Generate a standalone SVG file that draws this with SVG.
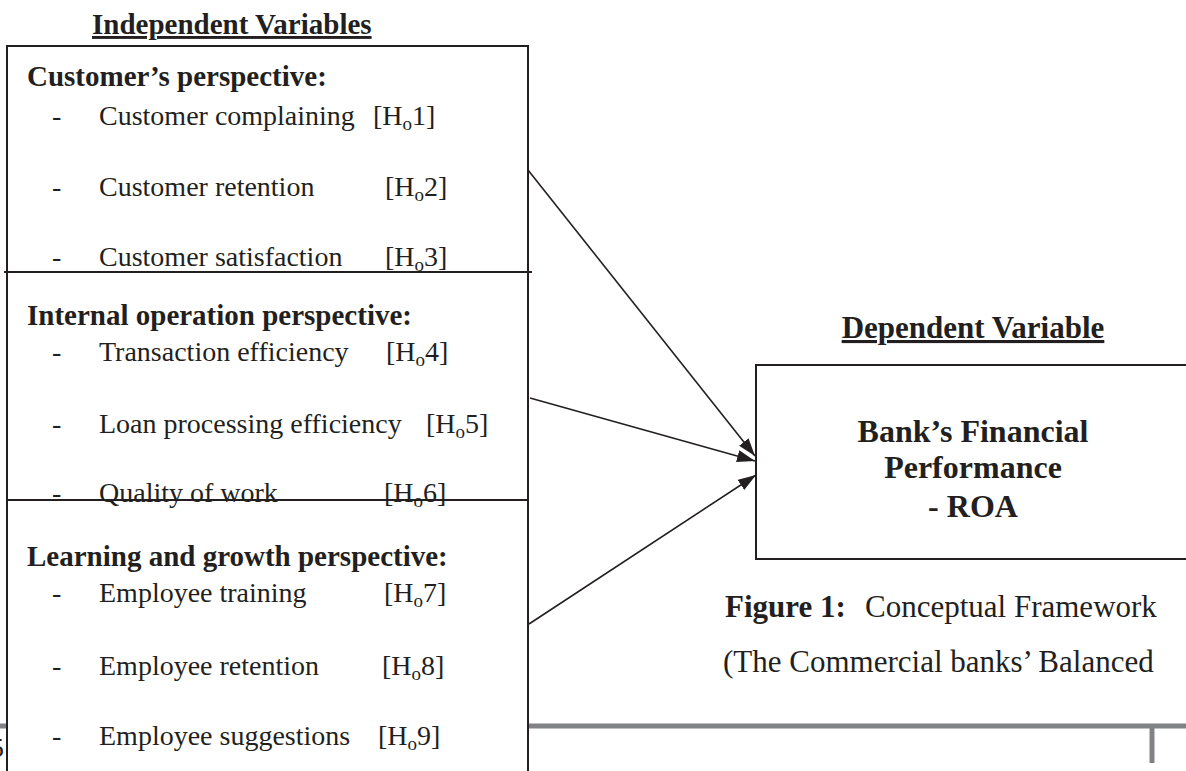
<svg xmlns="http://www.w3.org/2000/svg" width="1186" height="771" viewBox="0 0 1186 771">
<style>
  text { font-family: "Liberation Serif", "Times New Roman", serif; fill: #231f20; }
  .title { font-weight: bold; text-decoration: underline; }
  .hdr { font-weight: bold; font-size: 29px; }
  .item { font-size: 28px; }
  .sub { font-size: 19px; }
  .box { fill: none; stroke: #231f20; stroke-width: 2; }
  .rule { stroke: #231f20; stroke-width: 2; }
  .conn { stroke: #231f20; stroke-width: 1.6; fill: none; marker-end: url(#arrow); }
  .gray { stroke: #808285; stroke-width: 5; }
</style>
<defs>
  <marker id="arrow" viewBox="0 0 18 12" refX="18" refY="6" markerWidth="18" markerHeight="12" markerUnits="userSpaceOnUse" orient="auto">
    <path d="M0,0 L18,6 L0,12 z" fill="#231f20"/>
  </marker>
</defs>
<rect x="0" y="0" width="1186" height="771" fill="#ffffff"/>

<!-- page footer rule -->
<g id="page-footer">
  <line class="gray" x1="0" y1="726" x2="1186" y2="726"/>
  <line class="gray" x1="1152" y1="726" x2="1152" y2="763"/>
  <text x="-10" y="757" style="font-size:28px">5</text>
</g>

<!-- white backing of the independent-variable boxes -->
<rect x="7" y="46" width="521" height="740" fill="#ffffff"/>
<rect x="756" y="365" width="440" height="194" fill="#ffffff"/>

<text id="title-independent" class="title" x="92" y="34" style="font-size:29px">Independent Variables</text>

<g id="node-customer">
  <rect class="box" x="7" y="46" width="521" height="226"/>
  <text class="hdr" x="27" y="86">Customer’s perspective:</text>
  <text class="item" x="52" y="125">-</text>
  <text class="item" x="99" y="125">Customer complaining</text>
  <text class="item" x="373" y="125">[H<tspan class="sub" dy="5">o</tspan><tspan dy="-5">1]</tspan></text>
  <text class="item" x="52" y="196">-</text>
  <text class="item" x="99" y="196">Customer retention</text>
  <text class="item" x="385" y="196">[H<tspan class="sub" dy="5">o</tspan><tspan dy="-5">2]</tspan></text>
  <text class="item" x="52" y="266">-</text>
  <text class="item" x="99" y="266">Customer satisfaction</text>
  <text class="item" x="385" y="266">[H<tspan class="sub" dy="5">o</tspan><tspan dy="-5">3]</tspan></text>
</g>

<g id="node-internal">
  <rect class="box" x="7" y="272" width="521" height="228"/>
  <line class="rule" x1="4" y1="272" x2="532" y2="272"/>
  <text class="hdr" x="27" y="325">Internal operation perspective:</text>
  <text class="item" x="52" y="361">-</text>
  <text class="item" x="99" y="361">Transaction efficiency</text>
  <text class="item" x="386" y="361">[H<tspan class="sub" dy="5">o</tspan><tspan dy="-5">4]</tspan></text>
  <text class="item" x="52" y="433">-</text>
  <text class="item" x="99" y="433">Loan processing efficiency</text>
  <text class="item" x="426" y="433">[H<tspan class="sub" dy="5">o</tspan><tspan dy="-5">5]</tspan></text>
  <text class="item" x="52" y="502">-</text>
  <text class="item" x="99" y="502">Quality of work</text>
  <text class="item" x="384" y="502">[H<tspan class="sub" dy="5">o</tspan><tspan dy="-5">6]</tspan></text>
</g>

<g id="node-learning">
  <rect class="box" x="7" y="500" width="521" height="290"/>
  <text class="hdr" x="27" y="566">Learning and growth perspective:</text>
  <text class="item" x="52" y="602">-</text>
  <text class="item" x="99" y="602">Employee training</text>
  <text class="item" x="384" y="602">[H<tspan class="sub" dy="5">o</tspan><tspan dy="-5">7]</tspan></text>
  <text class="item" x="52" y="675">-</text>
  <text class="item" x="99" y="675">Employee retention</text>
  <text class="item" x="382" y="675">[H<tspan class="sub" dy="5">o</tspan><tspan dy="-5">8]</tspan></text>
  <text class="item" x="52" y="745">-</text>
  <text class="item" x="99" y="745">Employee suggestions</text>
  <text class="item" x="378" y="745">[H<tspan class="sub" dy="5">o</tspan><tspan dy="-5">9]</tspan></text>
</g>

<text id="title-dependent" class="title" x="973" y="338" text-anchor="middle" style="font-size:31px">Dependent Variable</text>

<g id="node-dependent">
  <rect class="box" x="756" y="365" width="440" height="194"/>
  <text x="973" y="442" text-anchor="middle" style="font-size:32px;font-weight:bold">Bank’s Financial</text>
  <text x="973" y="478" text-anchor="middle" style="font-size:32px;font-weight:bold">Performance</text>
  <text x="973" y="517" text-anchor="middle" style="font-size:32px;font-weight:bold">- ROA</text>
</g>

<g id="connectors">
  <line class="conn" x1="528" y1="170" x2="755" y2="456"/>
  <line class="conn" x1="530" y1="398" x2="755" y2="461"/>
  <line class="conn" x1="529" y1="624" x2="756" y2="475"/>
</g>

<g id="caption">
  <text x="725" y="617" style="font-size:31px"><tspan style="font-weight:bold">Figure 1:</tspan>  <tspan x="865">Conceptual Framework</tspan></text>
  <text x="723" y="672" style="font-size:31px">(The Commercial banks’ Balanced</text>
</g>
</svg>
